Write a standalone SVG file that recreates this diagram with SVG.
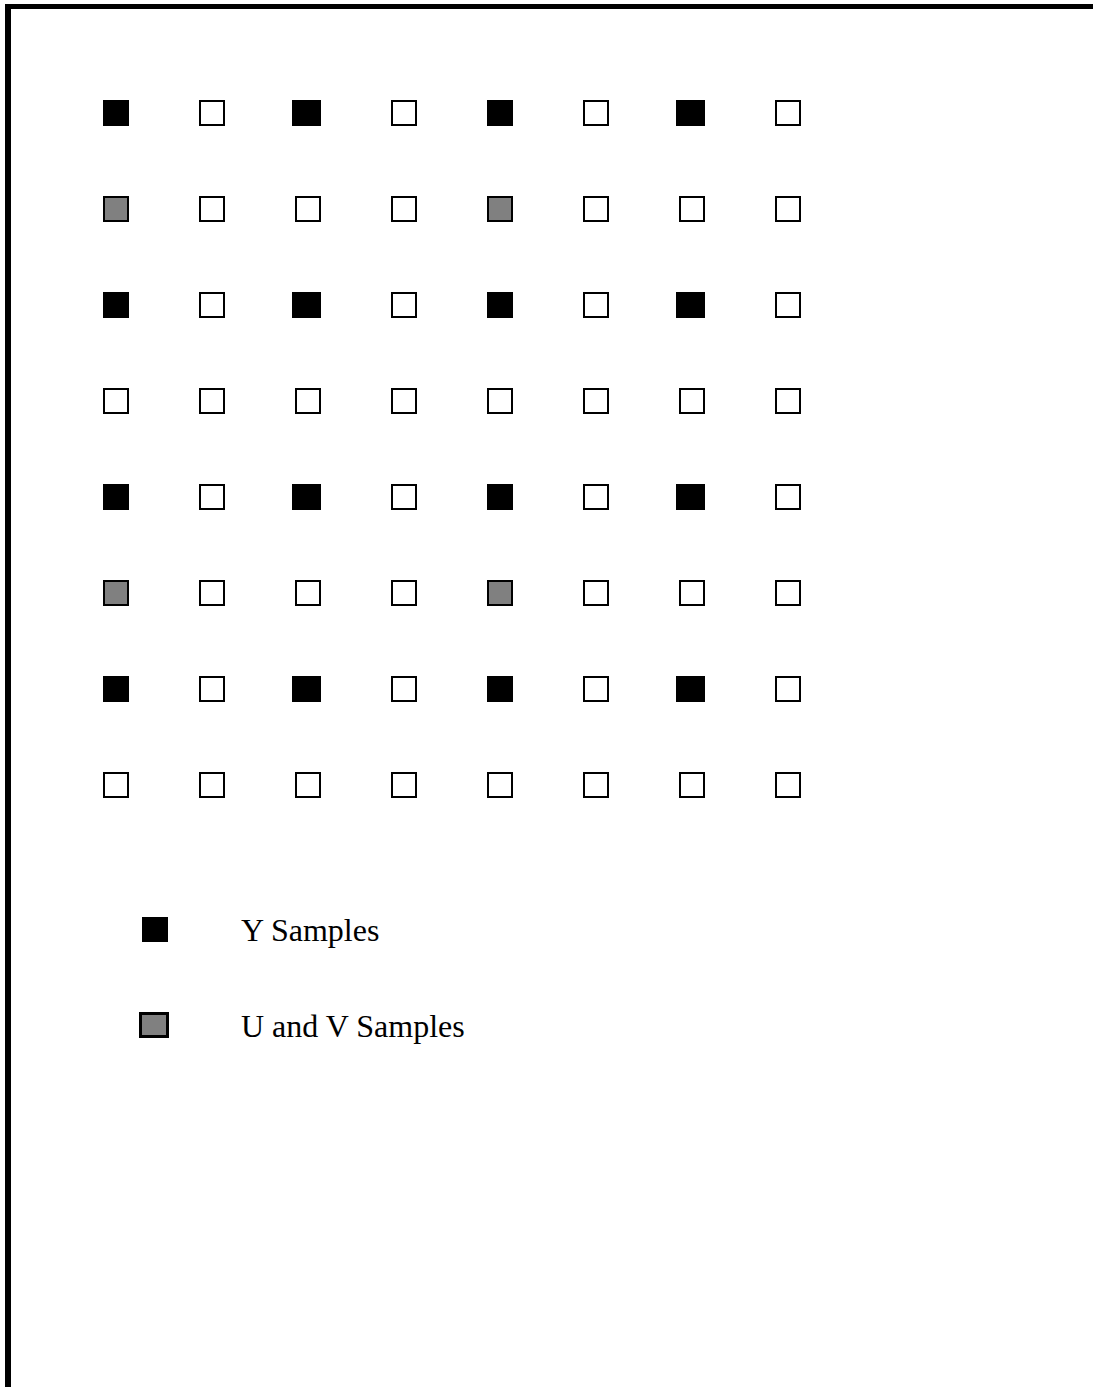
<svg xmlns="http://www.w3.org/2000/svg" width="1094" height="1387" viewBox="0 0 1094 1387">
<style>
.y{fill:#000;stroke:#000;stroke-width:2}
.w{fill:#000;stroke:#000;stroke-width:2}
.e{fill:#fff;stroke:#000;stroke-width:2}
.g{fill:#808080;stroke:#000;stroke-width:2}
.t{font-family:"Liberation Serif","Times New Roman",serif;font-size:32px;fill:#000}
</style>
<rect width="1094" height="1387" fill="#fff"/>
<g id="frame">
<rect x="5" y="4" width="1088" height="5" fill="#000"/>
<rect x="5" y="4" width="6" height="1383" fill="#000"/>
</g>
<g id="grid">
<g id="row0">
<rect class="y" x="104" y="101" width="24" height="24"/><rect class="e" x="200" y="101" width="24" height="24"/><rect class="w" x="293" y="101" width="27" height="24"/><rect class="e" x="392" y="101" width="24" height="24"/><rect class="y" x="488" y="101" width="24" height="24"/><rect class="e" x="584" y="101" width="24" height="24"/><rect class="w" x="677" y="101" width="27" height="24"/><rect class="e" x="776" y="101" width="24" height="24"/>
</g>
<g id="row1">
<rect class="g" x="104" y="197" width="24" height="24"/><rect class="e" x="200" y="197" width="24" height="24"/><rect class="e" x="296" y="197" width="24" height="24"/><rect class="e" x="392" y="197" width="24" height="24"/><rect class="g" x="488" y="197" width="24" height="24"/><rect class="e" x="584" y="197" width="24" height="24"/><rect class="e" x="680" y="197" width="24" height="24"/><rect class="e" x="776" y="197" width="24" height="24"/>
</g>
<g id="row2">
<rect class="y" x="104" y="293" width="24" height="24"/><rect class="e" x="200" y="293" width="24" height="24"/><rect class="w" x="293" y="293" width="27" height="24"/><rect class="e" x="392" y="293" width="24" height="24"/><rect class="y" x="488" y="293" width="24" height="24"/><rect class="e" x="584" y="293" width="24" height="24"/><rect class="w" x="677" y="293" width="27" height="24"/><rect class="e" x="776" y="293" width="24" height="24"/>
</g>
<g id="row3">
<rect class="e" x="104" y="389" width="24" height="24"/><rect class="e" x="200" y="389" width="24" height="24"/><rect class="e" x="296" y="389" width="24" height="24"/><rect class="e" x="392" y="389" width="24" height="24"/><rect class="e" x="488" y="389" width="24" height="24"/><rect class="e" x="584" y="389" width="24" height="24"/><rect class="e" x="680" y="389" width="24" height="24"/><rect class="e" x="776" y="389" width="24" height="24"/>
</g>
<g id="row4">
<rect class="y" x="104" y="485" width="24" height="24"/><rect class="e" x="200" y="485" width="24" height="24"/><rect class="w" x="293" y="485" width="27" height="24"/><rect class="e" x="392" y="485" width="24" height="24"/><rect class="y" x="488" y="485" width="24" height="24"/><rect class="e" x="584" y="485" width="24" height="24"/><rect class="w" x="677" y="485" width="27" height="24"/><rect class="e" x="776" y="485" width="24" height="24"/>
</g>
<g id="row5">
<rect class="g" x="104" y="581" width="24" height="24"/><rect class="e" x="200" y="581" width="24" height="24"/><rect class="e" x="296" y="581" width="24" height="24"/><rect class="e" x="392" y="581" width="24" height="24"/><rect class="g" x="488" y="581" width="24" height="24"/><rect class="e" x="584" y="581" width="24" height="24"/><rect class="e" x="680" y="581" width="24" height="24"/><rect class="e" x="776" y="581" width="24" height="24"/>
</g>
<g id="row6">
<rect class="y" x="104" y="677" width="24" height="24"/><rect class="e" x="200" y="677" width="24" height="24"/><rect class="w" x="293" y="677" width="27" height="24"/><rect class="e" x="392" y="677" width="24" height="24"/><rect class="y" x="488" y="677" width="24" height="24"/><rect class="e" x="584" y="677" width="24" height="24"/><rect class="w" x="677" y="677" width="27" height="24"/><rect class="e" x="776" y="677" width="24" height="24"/>
</g>
<g id="row7">
<rect class="e" x="104" y="773" width="24" height="24"/><rect class="e" x="200" y="773" width="24" height="24"/><rect class="e" x="296" y="773" width="24" height="24"/><rect class="e" x="392" y="773" width="24" height="24"/><rect class="e" x="488" y="773" width="24" height="24"/><rect class="e" x="584" y="773" width="24" height="24"/><rect class="e" x="680" y="773" width="24" height="24"/><rect class="e" x="776" y="773" width="24" height="24"/>
</g>
</g>
<g id="connectors"></g>
<g id="legend-y">
<rect class="y" x="143" y="918" width="24" height="23"/>
<text class="t" x="241" y="941">Y Samples</text>
</g>
<g id="legend-uv">
<rect class="g" x="140.5" y="1013.5" width="27" height="23" style="stroke-width:3"/>
<text class="t" x="241" y="1037">U and V Samples</text>
</g>
</svg>
